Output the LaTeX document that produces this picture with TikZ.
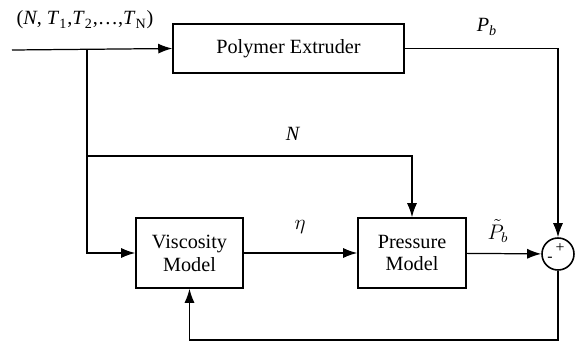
\documentclass[tikz,border=0pt]{standalone}
\usepackage{amsmath}
\usepackage{fontspec}
\setmainfont{Liberation Serif}
\usepackage{tikz}
\usetikzlibrary{arrows.meta,positioning}

\begin{document}
\begin{tikzpicture}[>={Latex[length=2.8mm,width=2mm]}, x=0.02cm, y=-0.02cm, font=\fontsize{11.5}{13}\selectfont]
        \tikzset{block/.style={rectangle, draw, line width=0.9pt, align=center, inner sep=0pt}, sig/.style={draw, line width=0.7pt}, summer/.style={circle, draw, line width=0.9pt, minimum size=0.64cm, inner sep=0pt}}
        \useasboundingbox (0,0) rectangle (583,342);
        \node[block, minimum width=4.62cm, minimum height=0.98cm] (ext) at (288.5,48.5) {Polymer Extruder};
        \node[block, minimum width=2.14cm, minimum height=1.4cm] (vis) at (189.5,253) {Viscosity\\Model};
        \node[block, minimum width=2.16cm, minimum height=1.4cm] (pre) at (412,253) {Pressure\\Model};
        \node[summer] (sum) at (558,254) {};
        \node[font=\small] (plus) at ([shift={(2,-6)}]sum.center) {+};
        \node[font=\small] (minus) at ([shift={(-8,5)}]sum.center) {-};
        \coordinate (in) at (12,50);
        \coordinate (br) at (87,50);
        \coordinate (nc) at (87,156);
        \coordinate (bot) at (558,340);
        \node (inlab) at (85,20) {(\textit{N}, \textit{T}\textsubscript{1},\textit{T}\textsubscript{2},\ldots,\textit{T}\textsubscript{N})};
        \node (pblab) at (487,27) {\textit{P}\textsubscript{\textit{b}}};
        \node (nlab) at (293,134) {\textit{N}};
        \node (etalab) at (300,227) {$\eta$};
        \node (pmlab) at (498,231) {$\tilde{P}_b$};
        \node[anchor=west] (elab) at (577,227) {\textit{e}};
        \draw[sig,->] (in) -- (ext.west);
        \draw[sig,->] (br) |- (vis.west);
        \draw[sig,->] (nc) -| (pre.north);
        \draw[sig,->] (ext.east) -| (sum.north);
        \draw[sig,->] (vis) -- (pre);
        \draw[sig,->] (pre) -- (sum);
        \draw[sig,->] (sum.south) -- (bot) -| (vis.south);
    \end{tikzpicture}
\end{document}
